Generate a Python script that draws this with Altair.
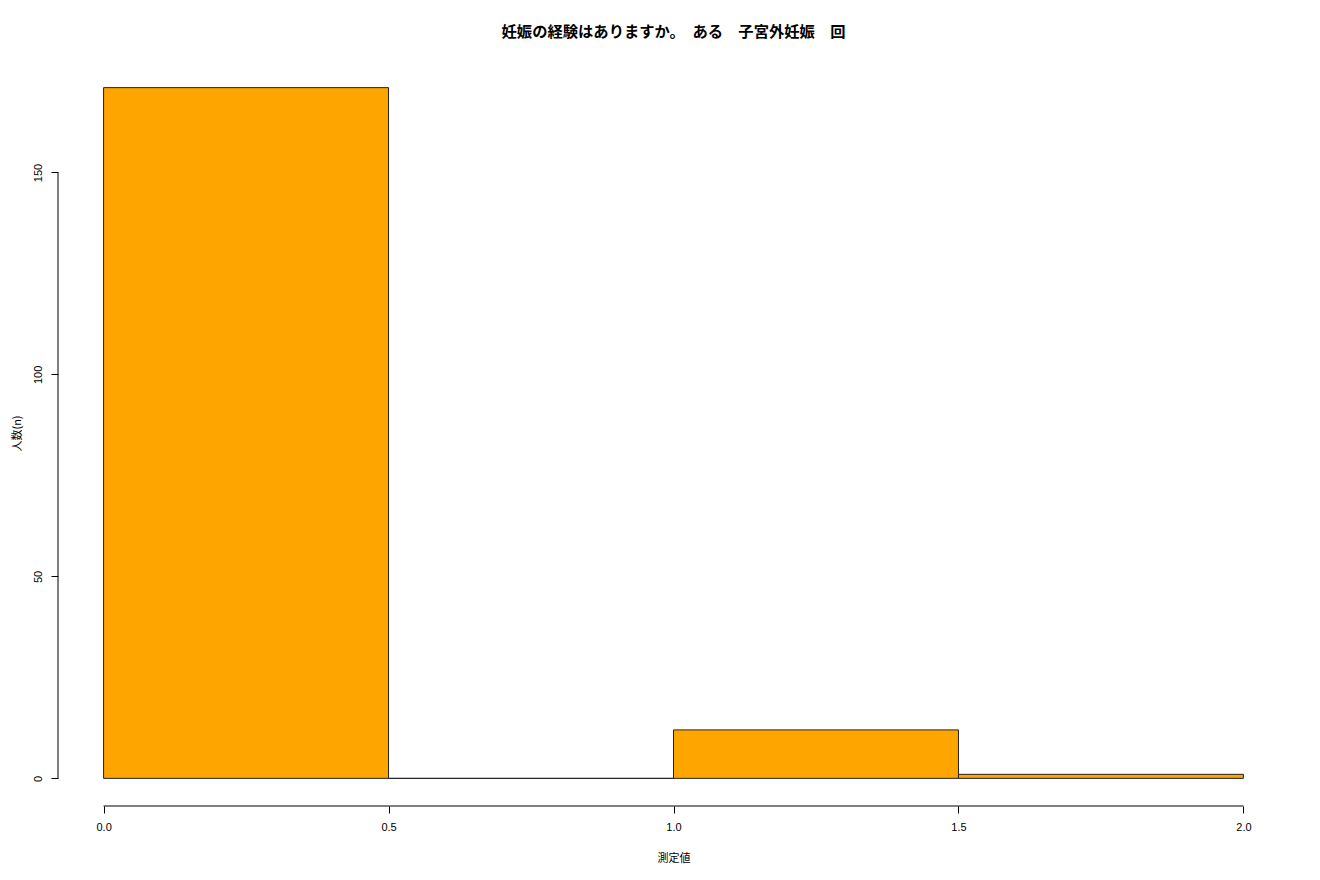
import altair as alt
import pandas as pd

bin_start = [0.0, 0.5, 1.0, 1.5]
bin_end = [0.5, 1.0, 1.5, 2.0]
counts = [171, 0, 12, 1]
x_ticks = [0.0, 0.5, 1.0, 1.5, 2.0]
y_ticks = [0, 50, 100, 150]

title = "妊娠の経験はありますか。　ある　子宮外妊娠　回"
x_title = "測定値"
y_title = "人数(n)"

bars = pd.DataFrame({"start": bin_start, "end": bin_end, "count": counts, "base": [0] * 4})

W, H = 1231, 746
xs = alt.Scale(domain=[-0.08, 2.08], nice=False, zero=False)
ys = alt.Scale(domain=[-6.84, 177.84], nice=False, zero=False)

FONT = "Liberation Sans"

xaxis = alt.Axis(values=x_ticks, format=".1f", domain=False, grid=False, tickColor="black",
                 tickSize=7, labelPadding=8, labelFontSize=11, labelColor="black", labelFont=FONT,
                 title=x_title, titleFont="Noto Sans CJK JP", titleFontWeight="normal", titleFontSize=11,
                 titleColor="black", titleY=52, titleBaseline="middle")
yaxis = alt.Axis(values=y_ticks, format="d", domain=False, grid=False, tickColor="black",
                 tickSize=7, labelPadding=8, labelFontSize=11, labelColor="black", labelFont=FONT,
                 labelAngle=270, title=y_title, titleFont="Noto Sans CJK JP", titleFontWeight="normal",
                 titleFontSize=11, titleColor="black", titleX=-41, titleY=H / 2, titleBaseline="middle")

rect = alt.Chart(bars).mark_rect(fill="#FFA500", stroke="#222222", strokeWidth=1).encode(
    x=alt.X("start:Q", scale=xs, axis=xaxis),
    x2="end:Q",
    y=alt.Y("count:Q", scale=ys, axis=yaxis),
    y2="base:Q",
)

yline = alt.Chart(pd.DataFrame({"lo": [y_ticks[0]], "hi": [y_ticks[-1]]})).mark_rule(color="black", strokeWidth=1).encode(
    x=alt.value(0),
    y=alt.Y("lo:Q", scale=ys),
    y2="hi:Q",
)
xline = alt.Chart(pd.DataFrame({"lo": [x_ticks[0]], "hi": [x_ticks[-1]]})).mark_rule(color="black", strokeWidth=1).encode(
    y=alt.value(H),
    x=alt.X("lo:Q", scale=xs),
    x2="hi:Q",
)

chart = alt.layer(rect, yline, xline).properties(
    width=W, height=H,
    title=alt.TitleParams(title, font="Noto Sans CJK JP", fontSize=15.3, fontWeight="bold",
                          color="black", anchor="middle", offset=20),
    autosize=alt.AutoSizeParams(type="none"),
    padding={"left": 50, "top": 52, "right": 20, "bottom": 60},
).configure(background="white").configure_view(strokeWidth=0, stroke="transparent")

chart.save("out.html", embed_options={"renderer": "svg", "actions": False})
